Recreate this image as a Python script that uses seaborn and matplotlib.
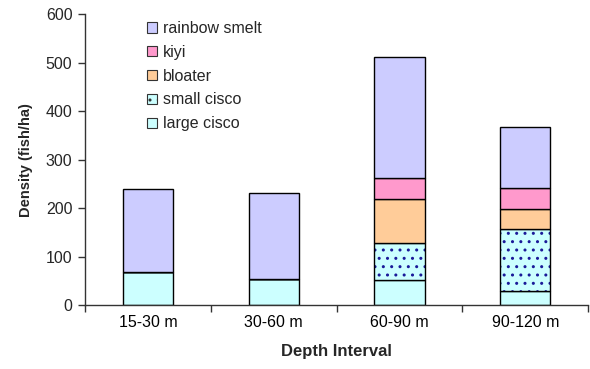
import numpy as np
import pandas as pd
import seaborn as sns
import matplotlib.pyplot as plt
from matplotlib.patches import Patch

# -------------------------------------------------------------------
# Data
# -------------------------------------------------------------------
depths = ["15-30 m", "30-60 m", "60-90 m", "90-120 m"]
large_cisco = [69, 54, 52, 30]
small_cisco = [0, 0, 77, 127]
bloater = [0, 0, 90, 42]
kiyi = [0, 0, 44, 42]
rainbow_smelt = [170, 178, 248, 127]

# stacking order bottom -> top
series = [
    ("large cisco", large_cisco, "#CCFFFF", None),
    ("small cisco", small_cisco, "#CCFFFF", ".."),
    ("bloater", bloater, "#FFCC99", None),
    ("kiyi", kiyi, "#FF99CC", None),
    ("rainbow smelt", rainbow_smelt, "#CCCCFF", None),
]

# -------------------------------------------------------------------
# Plot
# -------------------------------------------------------------------
sns.set_style("white")
plt.rcParams["font.family"] = ["Liberation Sans", "DejaVu Sans"]
plt.rcParams["hatch.linewidth"] = 1.0

fig = plt.figure(figsize=(5.9, 3.69), dpi=100)
ax = fig.add_axes([0.144, 0.173, 0.853, 0.789])

bottom = np.zeros(len(depths))
for name, vals, color, hatch in series:
    df = pd.DataFrame({"depth": depths, "value": vals})
    if hatch:
        # fill with navy dots, then draw the black outline on top
        sns.barplot(data=df, x="depth", y="value", bottom=bottom, color=color,
                    width=0.4, saturation=1, hatch=hatch, edgecolor="#1a1a99",
                    linewidth=0, ax=ax)
        sns.barplot(data=df, x="depth", y="value", bottom=bottom, color="black",
                    fill=False, width=0.4, linewidth=1, ax=ax)
    else:
        sns.barplot(data=df, x="depth", y="value", bottom=bottom, color=color,
                    width=0.4, saturation=1, edgecolor="black", linewidth=1, ax=ax)
    bottom += np.array(vals)

ax.set_xlim(-0.5, 3.5)
ax.set_ylim(0, 600)
ax.set_yticks(range(0, 601, 100))

# ticks between categories like the original
ax.set_xticks(np.arange(-0.5, 3.6, 1), minor=True)
ax.tick_params(axis="x", which="major", length=0, labelsize=11.5, pad=7, colors="black")
ax.tick_params(axis="x", which="minor", length=5, width=1, color="#333333", bottom=True)
ax.tick_params(axis="y", length=5, width=1, labelsize=11.5, pad=4, color="#333333", left=True)

for s in ["top", "right"]:
    ax.spines[s].set_visible(False)
for s in ["left", "bottom"]:
    ax.spines[s].set_color("#333333")
    ax.spines[s].set_linewidth(1)

ax.set_xlabel("Depth Interval", fontsize=12, fontweight="bold", labelpad=10)
ax.set_ylabel("Density (fish/ha)", fontsize=10.5, fontweight="bold", labelpad=9)

# legend (top to bottom as in the chart)
handles = []
labels = []
for name, vals, color, hatch in reversed(series):
    handles.append(Patch(facecolor=color, edgecolor="#333333", linewidth=0.8,
                         hatch=hatch))
    labels.append(name)
ax.legend(handles, labels, loc="upper left", bbox_to_anchor=(0.095, 1.025),
          frameon=False, fontsize=11.5, handlelength=0.6, handleheight=0.6,
          handletextpad=0.4, labelspacing=0.55)

plt.savefig("out.png", dpi=100)
plt.close()
